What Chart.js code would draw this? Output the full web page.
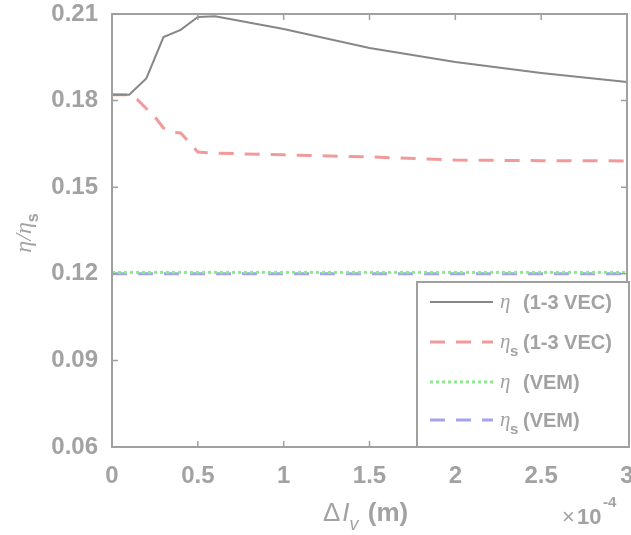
<!DOCTYPE html>
<html>
<head>
<meta charset="utf-8">
<script src="https://cdn.jsdelivr.net/npm/chart.js@4.4.1/dist/chart.umd.min.js"></script>
<style>
  body { margin: 0; background: #fff; }
  canvas { display: block; }
</style>
</head>
<body>
<canvas id="chart" width="631" height="535"></canvas>
<script>
// x values are in units of 1e-4 m
const xVec = [0, 0.1, 0.2, 0.3, 0.4, 0.5, 0.6, 1.0, 1.5, 2.0, 2.5, 3.0];
const etaVec = [0.182, 0.182, 0.1877, 0.202, 0.2045, 0.209, 0.2092, 0.2048, 0.1982, 0.1934, 0.1896, 0.1864];
const xVecS = [0, 0.1, 0.15, 0.25, 0.3, 0.35, 0.4, 0.5, 0.6, 1.0, 1.5, 2.0, 2.5, 3.0];
const etaSVec = [0.182, 0.182, 0.1802, 0.1743, 0.1705, 0.1691, 0.1688, 0.1622, 0.1618, 0.1612, 0.1605, 0.1594, 0.1592, 0.1591];
const xVem = [0, 3.0];
const etaVem = [0.1205, 0.1205];
const etaSVem = [0.1200, 0.1200];

const xTicks = [0, 0.5, 1, 1.5, 2, 2.5, 3];
const yTicks = [0.06, 0.09, 0.12, 0.15, 0.18, 0.21];

const legendNames = [
  { sym: "η", sub: "", tail: "(1-3 VEC)" },
  { sym: "η", sub: "s", tail: "(1-3 VEC)" },
  { sym: "η", sub: "", tail: "(VEM)" },
  { sym: "η", sub: "s", tail: "(VEM)" }
];

const TXT = "#a2a2a2";
const AX = "#a0a0a0";

function pts(xs, ys) {
  return xs.map((x, i) => ({ x: x, y: ys[i] }));
}

const decor = {
  id: "decor",
  afterDraw(chart) {
    const ctx = chart.ctx;
    const a = chart.chartArea;
    const xs = chart.scales.x, ys = chart.scales.y;
    ctx.save();
    ctx.strokeStyle = AX;
    ctx.lineWidth = 2;
    ctx.setLineDash([]);
    ctx.strokeRect(a.left, a.top, a.right - a.left, a.bottom - a.top);
    // inward ticks
    ctx.lineWidth = 1.5;
    ctx.beginPath();
    xTicks.forEach(v => {
      const p = xs.getPixelForValue(v);
      ctx.moveTo(p, a.bottom); ctx.lineTo(p, a.bottom - 6);
      ctx.moveTo(p, a.top); ctx.lineTo(p, a.top + 6);
    });
    yTicks.forEach(v => {
      const p = ys.getPixelForValue(v);
      ctx.moveTo(a.left, p); ctx.lineTo(a.left + 6, p);
      ctx.moveTo(a.right, p); ctx.lineTo(a.right - 6, p);
    });
    ctx.stroke();

    // legend box
    const lx = a.right - 210, ly = a.bottom - 165, lw = 212, lh = 165;
    ctx.fillStyle = "#fff";
    ctx.fillRect(lx, ly, lw, lh);
    ctx.strokeStyle = AX;
    ctx.lineWidth = 2;
    ctx.strokeRect(lx, ly, lw, lh);
    const rows = [20, 60, 100, 138];
    chart.data.datasets.forEach((ds, i) => {
      const y = ly + rows[i];
      ctx.strokeStyle = ds.borderColor;
      ctx.lineWidth = ds.borderWidth;
      ctx.setLineDash(ds.borderDash || []);
      ctx.beginPath();
      ctx.moveTo(lx + 13, y);
      ctx.lineTo(lx + 76, y);
      ctx.stroke();
      ctx.setLineDash([]);
      const n = legendNames[i];
      ctx.fillStyle = TXT;
      ctx.textBaseline = "alphabetic";
      ctx.textAlign = "left";
      ctx.font = "italic 21px 'Liberation Serif'";
      ctx.fillText(n.sym, lx + 83, y + 6);
      if (n.sub) {
        ctx.font = "bold 15px 'Liberation Sans'";
        ctx.fillText(n.sub, lx + 93, y + 14);
      }
      ctx.font = "bold 20px 'Liberation Sans'";
      ctx.fillText(n.tail, lx + 106, y + 7);
    });

    // y title
    ctx.save();
    ctx.translate(31, 233);
    ctx.rotate(-Math.PI / 2);
    ctx.fillStyle = TXT;
    ctx.font = "italic 24px 'Liberation Serif'";
    let t = "η/η";
    let w1 = ctx.measureText(t).width;
    ctx.font = "bold 16px 'Liberation Sans'";
    let w2 = ctx.measureText("s").width;
    let sx = -(w1 + w2) / 2;
    ctx.font = "italic 24px 'Liberation Serif'";
    ctx.fillText(t, sx, 0);
    ctx.font = "bold 16px 'Liberation Sans'";
    ctx.fillText("s", sx + w1, 7);
    ctx.restore();

    // x title
    ctx.fillStyle = TXT;
    const parts = [
      { s: "Δ", f: "26px 'Liberation Sans'", dy: 0, gap: 2 },
      { s: "I", f: "italic 26px 'Liberation Sans'", dy: 0, gap: 0 },
      { s: "v", f: "italic 18px 'Liberation Sans'", dy: 9, gap: 2 },
      { s: " (m)", f: "bold 26px 'Liberation Sans'", dy: 0, gap: 0 }
    ];
    let cx = 323;
    parts.forEach(p => {
      ctx.font = p.f;
      ctx.fillText(p.s, cx, 521 + p.dy);
      cx += ctx.measureText(p.s).width + p.gap;
    });

    // exponent
    ctx.font = "22px 'Liberation Sans'";
    ctx.fillText("×", 562, 524);
    ctx.font = "bold 22px 'Liberation Sans'";
    ctx.fillText("10", 577, 524);
    ctx.font = "bold 15px 'Liberation Sans'";
    ctx.fillText("-4", 603, 507);
    ctx.restore();
  }
};

new Chart(document.getElementById("chart"), {
  type: "line",
  data: {
    datasets: [
      { data: pts(xVec, etaVec), borderColor: "#878787", borderWidth: 2 },
      { data: pts(xVecS, etaSVec), borderColor: "#f29a9a", borderWidth: 3, borderDash: [15, 11] },
      { data: pts(xVem, etaVem), borderColor: "#8fe88f", borderWidth: 3, borderDash: [3, 3] },
      { data: pts(xVem, etaSVem), borderColor: "#a3a3f2", borderWidth: 3, borderDash: [15, 11] }
    ]
  },
  options: {
    responsive: false,
    animation: false,
    layout: { padding: { top: 14, right: 4, left: 0, bottom: 0 } },
    elements: { point: { radius: 0 }, line: { tension: 0, fill: false } },
    plugins: { legend: { display: false }, tooltip: { enabled: false } },
    scales: {
      x: {
        type: "linear", min: 0, max: 3,
        grid: { display: false, drawTicks: false },
        border: { display: false },
        afterBuildTicks: s => { s.ticks = xTicks.map(v => ({ value: v })); },
        afterFit: s => { s.height = 88; s.paddingRight = 0; s.paddingLeft = 0; },
        ticks: {
          padding: 15, maxRotation: 0, autoSkip: false, color: TXT,
          font: { family: "Liberation Sans", size: 24, weight: "bold" },
          callback: v => String(Number(v.toFixed(1)))
        }
      },
      y: {
        min: 0.06, max: 0.21,
        grid: { display: false, drawTicks: false },
        border: { display: false },
        afterBuildTicks: s => { s.ticks = yTicks.map(v => ({ value: v })); },
        afterFit: s => { s.width = 112; s.paddingTop = 0; s.paddingBottom = 0; },
        ticks: {
          padding: 14, autoSkip: false, color: TXT,
          font: { family: "Liberation Sans", size: 24, weight: "bold" },
          callback: v => v.toFixed(2)
        }
      }
    }
  },
  plugins: [decor]
});
</script>
</body>
</html>
